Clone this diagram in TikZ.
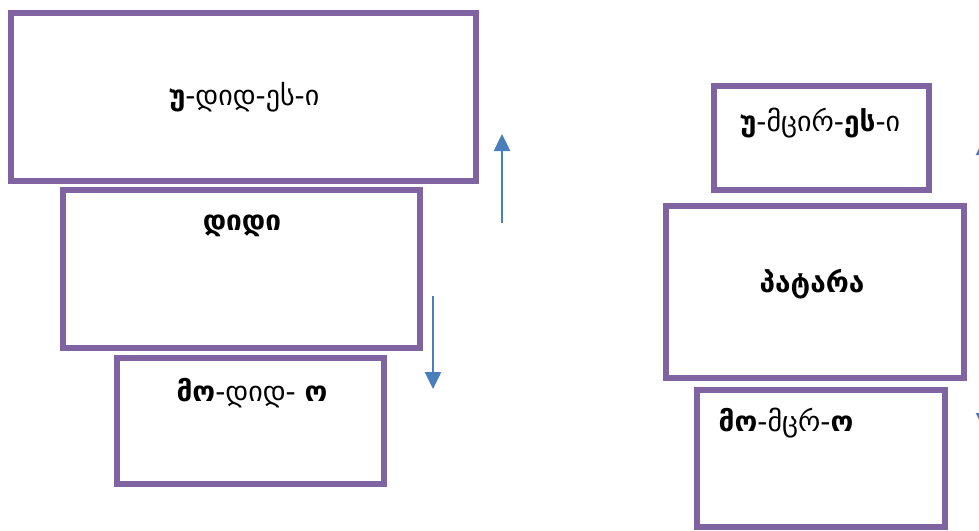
\documentclass[tikz,border=0pt]{standalone}
\usepackage{fontspec}
\setmainfont{DejaVu Sans}
\usetikzlibrary{arrows.meta}
\definecolor{boxpurple}{HTML}{8064A2}
\definecolor{arrowblue}{HTML}{4A7EBB}
\tikzset{
  pbox/.style={draw=boxpurple, line width=5.5pt},
  lbl/.style={font=\fontsize{28}{32}\selectfont, inner sep=0pt},
  blarrow/.style={draw=arrowblue, line width=2.5pt, -{Triangle[length=17pt,width=16pt]}}
}
\begin{document}
\begin{tikzpicture}[x=1pt,y=-1pt]
\useasboundingbox (0,0) rectangle (979,530);
\clip (0,0) rectangle (979,530);
% boxes
\draw[pbox] (11,13) rectangle (476,181);
\draw[pbox] (63,190) rectangle (420,348);
\draw[pbox] (117,358) rectangle (384,484);
\draw[pbox] (714,86) rectangle (929,190);
\draw[pbox] (666,206) rectangle (964,378);
\draw[pbox] (697,390) rectangle (945,527);
% labels
\node[lbl] (t1) at (244,97) {\textbf{უ}-დიდ-ეს-ი};
\node[lbl] (t2) at (242,226) {\textbf{დიდი}};
\node[lbl] (t3) at (252,393) {\textbf{მო}-დიდ- \textbf{ო}};
\node[lbl] (t4) at (820,123) {\textbf{უ}-მცირ-\textbf{ეს}-ი};
\node[lbl] (t5) at (812,284) {\textbf{პატარა}};
\node[lbl] (t6) at (786,423) {\textbf{მო}-მცრ-\textbf{ო}};
% arrows
\coordinate (u1s) at (502,223);
\coordinate (u1e) at (502,134);
\coordinate (d1s) at (433,296);
\coordinate (d1e) at (433,389);
\coordinate (u2s) at (984,230);
\coordinate (u2e) at (984,138);
\coordinate (d2s) at (984,330);
\coordinate (d2e) at (984,430);
\draw[blarrow] (u1s) -- (u1e);
\draw[blarrow] (d1s) -- (d1e);
\draw[blarrow] (u2s) -- (u2e);
\draw[blarrow] (d2s) -- (d2e);
\end{tikzpicture}
\end{document}
